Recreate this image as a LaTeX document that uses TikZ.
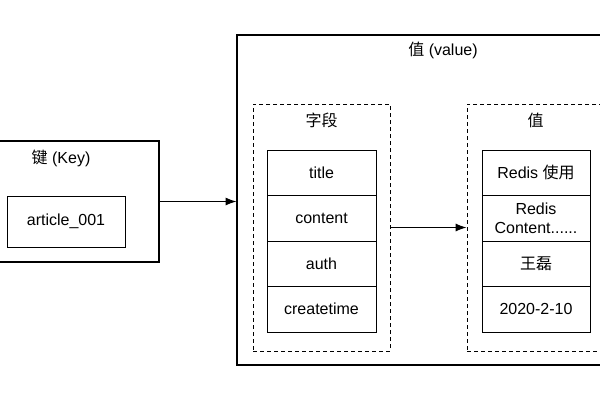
\documentclass[tikz,border=0pt]{standalone}
\usepackage{fontspec}
\setmainfont{Liberation Sans}
\newfontfamily\cjk{Noto Sans CJK SC}
\usetikzlibrary{arrows.meta,positioning}
\tikzset{
  outerbox/.style={draw=black, line width=1.1pt, inner sep=0pt},
  dashbox/.style={draw=black, dashed, dash pattern=on 4pt off 3pt, line width=1pt, inner sep=0pt},
  cell/.style={draw=black, line width=1pt, align=center, inner sep=0pt, minimum width=109pt, minimum height=45.5pt, font=\fontsize{16}{19}\selectfont},
  title/.style={inner sep=0pt, font=\fontsize{16}{18}\selectfont},
  arrow/.style={-{Latex[length=3.8mm,width=2.8mm]}, line width=1pt}
}
\begin{document}
\begin{tikzpicture}[x=1pt,y=-1pt]
\clip (0,0) rectangle (600,400);
% key side
\node[outerbox, minimum width=179pt, minimum height=121pt] (key) at (69.5,201.5) {};
\node[title] (keylabel) at (61,158) {{\cjk 键} (Key)};
\node[cell, minimum width=118pt, minimum height=51pt] (art) at (66,221.5) {article\_001};
% value side
\node[outerbox, minimum width=383pt, minimum height=330pt] (val) at (428.5,200) {};
\node[title] (vallabel) at (443,50) {{\cjk 值} (value)};
\node[dashbox, minimum width=137pt, minimum height=247pt] (fields) at (321.5,227.5) {};
\node[dashbox, minimum width=137pt, minimum height=247pt] (values) at (535.5,227.5) {};
\node[title] (fieldlabel) at (321.5,120) {\cjk 字段};
\node[title] (valuelabel) at (535.5,120) {\cjk 值};
\node[cell] (f1) at (321.5,172.75) {title};
\node[cell] (f2) at (321.5,218.25) {content};
\node[cell] (f3) at (321.5,263.75) {auth};
\node[cell] (f4) at (321.5,309.25) {createtime};
\node[cell, minimum width=108pt] (v1) at (536,172.75) {Redis {\cjk 使用}};
\node[cell, minimum width=108pt] (v2) at (536,218.25) {Redis\\Content......};
\node[cell, minimum width=108pt] (v3) at (536,263.75) {\cjk 王磊};
\node[cell, minimum width=108pt] (v4) at (536,309.25) {2020-2-10};
\draw[arrow] (key.east |- art.north) ++(0,6) coordinate (ka) -- (ka -| val.west);
\draw[arrow] (fields.east) -- (values.west);
\end{tikzpicture}
\end{document}
